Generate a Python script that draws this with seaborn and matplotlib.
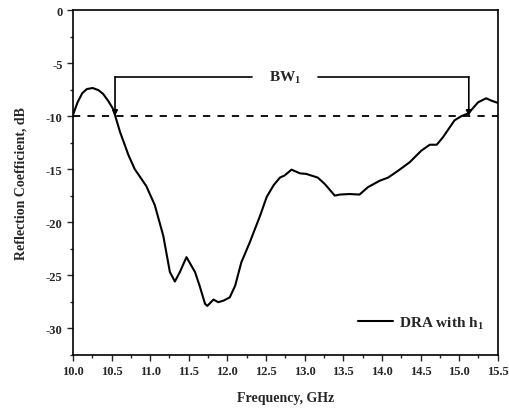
import matplotlib
matplotlib.use("Agg")
import matplotlib.pyplot as plt
import seaborn as sns
import pandas as pd
from matplotlib.ticker import MultipleLocator

freq = [10.0, 10.06, 10.12, 10.18, 10.255, 10.33, 10.39, 10.46, 10.52, 10.54, 10.61, 10.72, 10.80,
        10.95, 11.06, 11.17, 11.255, 11.32, 11.385, 11.47, 11.58, 11.64, 11.71, 11.74,
        11.82, 11.88, 11.95, 12.03, 12.10, 12.18, 12.29, 12.42, 12.51, 12.60, 12.68,
        12.74, 12.83, 12.94, 13.02, 13.17, 13.26, 13.39, 13.455, 13.58, 13.71, 13.82,
        13.97, 14.08, 14.22, 14.36, 14.51, 14.62, 14.71, 14.79, 14.94, 15.03, 15.12,
        15.245, 15.35, 15.42, 15.5]
s11 = [-9.9, -8.7, -7.85, -7.45, -7.35, -7.55, -7.9, -8.6, -9.33, -9.8, -11.5, -13.7, -15.0,
       -16.6, -18.4, -21.3, -24.7, -25.6, -24.7, -23.3, -24.7, -26.0, -27.7, -27.9,
       -27.3, -27.55, -27.4, -27.1, -26.0, -23.8, -21.9, -19.45, -17.6, -16.5, -15.8,
       -15.6, -15.05, -15.4, -15.45, -15.8, -16.4, -17.5, -17.4, -17.35, -17.4, -16.7,
       -16.1, -15.8, -15.1, -14.35, -13.26, -12.7, -12.7, -12.0, -10.4, -10.0, -9.74,
       -8.7, -8.32, -8.55, -8.75]

series_label = "DRA with h$_\\mathbf{1}$"
bw_label = "BW$_\\mathbf{1}$"
bw_left, bw_right = 10.545, 15.125
bw_level = -6.3
ref_level = -10

sns.set_style("ticks")
plt.rcParams['font.family'] = ['Liberation Serif', 'DejaVu Serif']
plt.rcParams['font.weight'] = 'bold'
plt.rcParams['axes.unicode_minus'] = False
plt.rcParams['mathtext.fontset'] = 'custom'
plt.rcParams['mathtext.rm'] = 'Liberation Serif:bold'
plt.rcParams['mathtext.bf'] = 'Liberation Serif:bold'

fig = plt.figure(figsize=(5.1, 4.1), dpi=100)
ax = fig.add_axes([0.143, 0.1325, 0.833, 0.8405])

df = pd.DataFrame({"Frequency": freq, "S11": s11})
sns.lineplot(data=df, x="Frequency", y="S11", color="black", lw=1.5, ax=ax, label=series_label)

ax.axhline(ref_level, color="black", ls=(0, (4, 4)), lw=1.3)

# BW annotation
ax.plot([bw_left, 12.32], [bw_level, bw_level], color="black", lw=1.2)
ax.plot([13.17, bw_right], [bw_level, bw_level], color="black", lw=1.2)
for xv in (bw_left, bw_right):
    ax.annotate("", xy=(xv, ref_level), xytext=(xv, bw_level),
                arrowprops=dict(arrowstyle="-|>", color="black", lw=1.2,
                                mutation_scale=8, shrinkA=0, shrinkB=0))
ax.text(12.75, bw_level, bw_label, ha="center", va="center", fontsize=11, fontweight="bold")

ax.set_xlim(10.0, 15.5)
ax.set_ylim(-32.5, 0)
ax.xaxis.set_minor_locator(MultipleLocator(0.25))
ax.yaxis.set_major_locator(MultipleLocator(5))
ax.yaxis.set_minor_locator(MultipleLocator(2.5))
ax.set_xticks([10 + 0.5 * i for i in range(12)])
ax.set_xticklabels([f"{10 + 0.5 * i:.1f}" for i in range(12)])
ax.tick_params(which="major", direction="out", length=4, width=1, labelsize=9)
ax.tick_params(which="minor", direction="out", length=2.5, width=1)
for sp in ax.spines.values():
    sp.set_visible(True)
    sp.set_linewidth(1.2)
    sp.set_color("black")

ax.set_xlabel("Frequency, GHz", fontsize=10, fontweight="bold", labelpad=10)
ax.set_ylabel("Reflection Coefficient, dB", fontsize=10, fontweight="bold", labelpad=13)

leg = ax.legend(loc="lower right", frameon=False, fontsize=11, handlelength=2.3,
                handletextpad=0.4, bbox_to_anchor=(1.0, 0.03))

fig.savefig("out.png", dpi=100)
